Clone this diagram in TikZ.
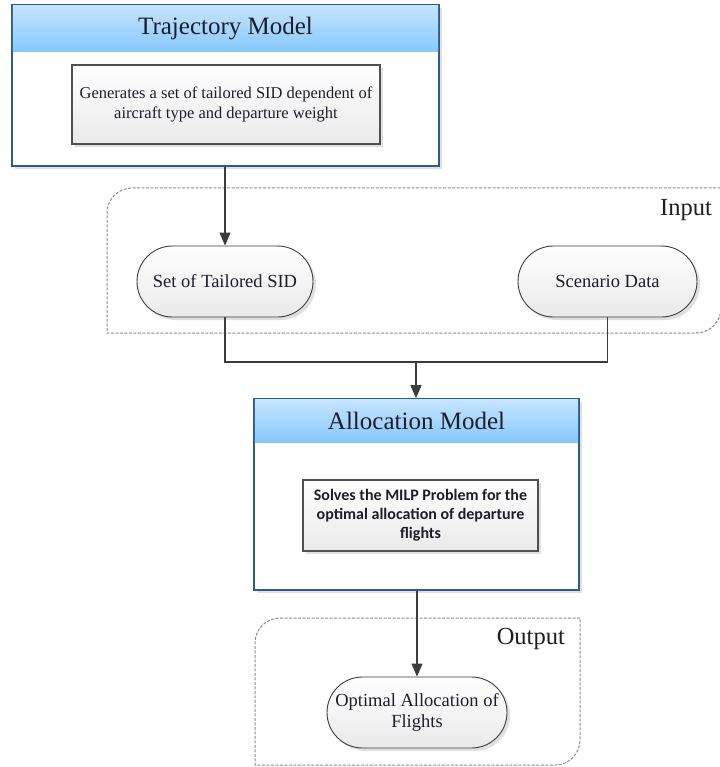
\documentclass[tikz,border=0pt]{standalone}
\usepackage{fontspec}
\setmainfont{Liberation Serif}
\newfontfamily\calibfont{Carlito}
\usetikzlibrary{shapes.misc,shadows,arrows.meta}

\definecolor{ink}{HTML}{1E1E2A}
\definecolor{boxblue}{HTML}{2E5C8A}
\definecolor{headtop}{HTML}{C6E4FE}
\definecolor{headbot}{HTML}{86C8FC}
\definecolor{lineg}{HTML}{3C3C3C}
\definecolor{dashg}{HTML}{8C8C8C}
\definecolor{framegray}{HTML}{505050}
\definecolor{fadegray}{HTML}{EAEAEA}

\begin{document}
\begin{tikzpicture}[x=1pt,y=-1pt,
  softshadow/.style={drop shadow={shadow xshift=3pt,shadow yshift=-3pt,fill=black,opacity=0.12}},
  modelbox/.style={draw=boxblue,line width=1.6pt,fill=white,softshadow,inner sep=0pt},
  headshade/.style={top color=headtop,bottom color=headbot,shading=axis},
  titletext/.style={text=ink,font=\fontsize{25}{30}\selectfont,inner sep=0pt},
  taskbox/.style={draw=framegray,line width=1.3pt,top color=white,bottom color=fadegray,
      softshadow,text=ink,align=center,inner sep=0pt},
  pill/.style={rounded rectangle,draw=lineg,line width=0.9pt,top color=white,bottom color=fadegray,
      softshadow,text=ink,align=center,inner sep=0pt,
      font=\fontsize{18.5}{21}\selectfont},
  grouplabel/.style={text=ink,font=\fontsize{24.5}{28}\selectfont,inner sep=0pt},
  groupbox/.style={draw=dashg,line width=1pt,dash pattern=on 3pt off 1.5pt},
  conn/.style={draw=lineg,line width=1.2pt},
  arr/.style={conn,-{Triangle[length=13pt,width=11pt]}}
]
\useasboundingbox (0,0) rectangle (719,767);

% dashed group frames (top-left and bottom-right corners rounded)
\draw[groupbox] (725,188) -- (132,188) .. controls (118.2,188) and (107,199.2) .. (107,213)
  -- (107,333) -- (696,333) .. controls (709.8,333) and (721,321.8) .. (721,308) -- (721,188);
\draw[groupbox] (580,618) -- (280,618) .. controls (266.2,618) and (255,629.2) .. (255,643)
  -- (255,765) -- (555,765) .. controls (568.8,765) and (580,753.8) .. (580,740) -- cycle;
\node[grouplabel,anchor=east] (inlabel) at (712,210) {Input};
\node[grouplabel,anchor=east] (outlabel) at (565,639) {Output};

% trajectory model with its blue header band
\node[modelbox,minimum width=427pt,minimum height=161pt] (traj) at (225.5,85.5) {};
\shade[headshade] ([shift={(1.6,1.6)}]traj.north west) rectangle ([shift={(-1.6,47)}]traj.north east);
\node[titletext] (trajtitle) at (225.5,29) {Trajectory Model};
\node[taskbox,minimum width=308pt,minimum height=79pt,font=\fontsize{16.5}{20}\selectfont]
  (trajtask) at (226,104.5) {Generates a set of tailored SID dependent of\\aircraft type and departure weight};

% inputs
\node[pill,minimum width=176pt,minimum height=71pt] (sid) at (225,281.5) {Set of Tailored SID};
\node[pill,minimum width=179pt,minimum height=71pt] (scen) at (607.5,281.5) {Scenario Data};

% allocation model with its blue header band
\node[modelbox,minimum width=325pt,minimum height=191pt] (alloc) at (416.5,494.5) {};
\shade[headshade] ([shift={(1.6,1.6)}]alloc.north west) rectangle ([shift={(-1.6,44)}]alloc.north east);
\node[titletext] (alloctitle) at (416.5,421) {Allocation Model};
\node[taskbox,minimum width=235pt,minimum height=71pt,font=\calibfont\bfseries\fontsize{16}{19}\selectfont]
  (alloctask) at (420.5,515.5) {Solves the MILP Problem for the\\optimal allocation of departure\\flights};

% output
\node[pill,minimum width=180pt,minimum height=71pt] (opt) at (417,712.5) {Optimal Allocation of\\Flights};

% connectors
\coordinate (join) at (416,362);
\draw[arr] (traj.south -| sid.north) -- (sid.north);
\draw[conn] (sid.south) -- (sid.south |- join) -- (scen.south |- join) -- (scen.south);
\draw[arr] (join) -- (alloc.north -| join);
\draw[arr] (alloc.south -| opt.north) -- (opt.north);
\end{tikzpicture}
\end{document}
